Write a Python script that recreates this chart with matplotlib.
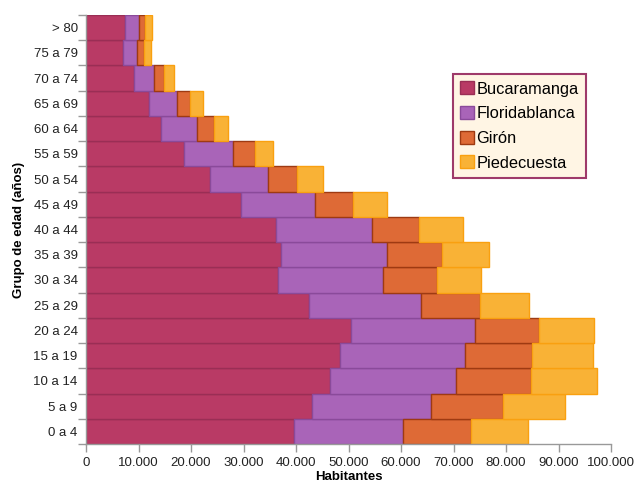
import numpy as np
import matplotlib
matplotlib.use("Agg")
import matplotlib.pyplot as plt
from matplotlib.ticker import FuncFormatter, FixedLocator

plt.rcParams["font.family"] = ["Liberation Sans", "DejaVu Sans"]

# ── Data (habitantes por grupo de edad, de abajo hacia arriba) ─────────────
grupos = ["0 a 4", "5 a 9", "10 a 14", "15 a 19", "20 a 24", "25 a 29",
          "30 a 34", "35 a 39", "40 a 44", "45 a 49", "50 a 54", "55 a 59",
          "60 a 64", "65 a 69", "70 a 74", "75 a 79", "> 80"]

bucaramanga = [39600, 43000, 46400, 48300, 50400, 42400, 36500, 37100, 36100,
               29600, 23700, 18700, 14300, 12000, 9200, 7100, 7500]
floridablanca = [20700, 22800, 24100, 23800, 23700, 21400, 20000, 20300, 18300,
                 14100, 11000, 9300, 6800, 5300, 3800, 2700, 2600]
giron = [13100, 13700, 14300, 12900, 12200, 11200, 10300, 10400, 9100,
         7200, 5500, 4100, 3200, 2600, 1900, 1200, 1200]
piedecuesta = [10700, 11800, 12500, 11600, 10500, 9400, 8500, 9000, 8400,
               6500, 5000, 3600, 2800, 2300, 1800, 1400, 1300]

series = [
    ("Bucaramanga", bucaramanga, "#B93A65", "#9A2E55"),
    ("Floridablanca", floridablanca, "#A964B8", "#8A4A9A"),
    ("Girón", giron, "#DE6A36", "#9E3A12"),
    ("Piedecuesta", piedecuesta, "#F9B236", "#F9A010"),
]

# ── Figure ─────────────────────────────────────────────────────────────────
fig = plt.figure(figsize=(6.36, 4.87), dpi=100, facecolor="white")
ax = fig.add_axes([86 / 636, 1 - 444 / 487, (611 - 86) / 636, (444 - 15) / 487])

y = np.arange(len(grupos))
left = np.zeros(len(grupos))
for name, vals, face, edge in series:
    ax.barh(y, vals, left=left, height=1.0, color=face, edgecolor=edge,
            linewidth=1.0, label=name, zorder=2)
    left += np.array(vals)

ax.set_xlim(0, 100000)
ax.set_ylim(-0.5, len(grupos) - 0.5)
ax.set_xticks(np.arange(0, 100001, 10000))
ax.xaxis.set_major_formatter(FuncFormatter(lambda v, _: f"{int(v):,}".replace(",", ".")))

ax.set_yticks(y)
ax.set_yticklabels(grupos)
ax.yaxis.set_minor_locator(FixedLocator(np.arange(-0.5, len(grupos), 1.0)))
ax.tick_params(axis="y", which="major", length=0, pad=6, labelsize=9.5,
               labelcolor="#222222")
ax.tick_params(axis="y", which="minor", length=6, color="#999999", width=1)
ax.tick_params(axis="x", length=6, color="#999999", width=1, labelsize=9.5,
               labelcolor="#222222")

for s in ["top", "right"]:
    ax.spines[s].set_visible(False)
for s in ["left", "bottom"]:
    ax.spines[s].set_color("#999999")
    ax.spines[s].set_linewidth(1.0)

ax.set_xlabel("Habitantes", fontsize=9.5, fontweight="bold", labelpad=1)
ax.set_ylabel("Grupo de edad (años)", fontsize=9.5, fontweight="bold", labelpad=6)

leg = ax.legend(loc="upper left", bbox_to_anchor=((453 - 86) / 525, 1 - (74 - 15) / 429),
                fontsize=11.8, frameon=True, fancybox=False, handlelength=0.84,
                handleheight=0.84, handletextpad=0.15, borderpad=0.45,
                borderaxespad=0, labelspacing=0.58)
leg.get_frame().set_facecolor("#FFF5E4")
leg.get_frame().set_edgecolor("#9E3A6A")
leg.get_frame().set_linewidth(1.5)
leg.get_frame().set_alpha(1)

fig.savefig("out.png", dpi=100, facecolor="white")
